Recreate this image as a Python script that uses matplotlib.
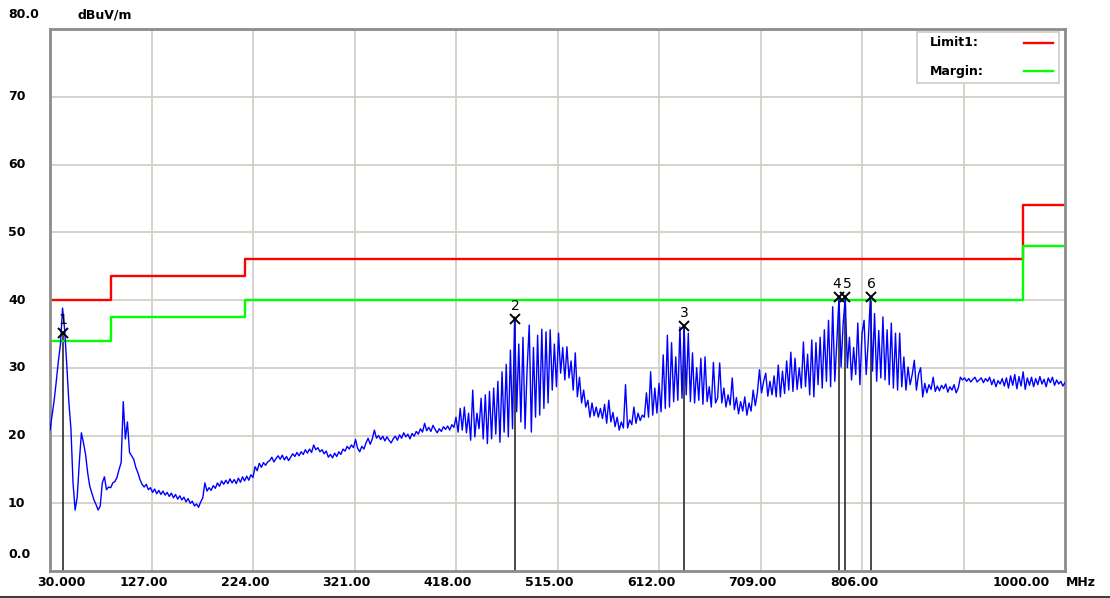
import numpy as np
import matplotlib.pyplot as plt
from matplotlib.lines import Line2D
from matplotlib.patches import Rectangle
from matplotlib.transforms import offset_copy

plt.rcParams['font.family'] = 'DejaVu Sans'

W, H = 1110, 598

# sweep: 30 .. 1000 MHz, one reading every 2 MHz
level = [
    20.8, 23.0, 25.2, 28.0, 31.0, 33.5, 38.8, 35.6, 30.5, 25.0,   # 30
    21.0, 13.0, 9.0, 10.9, 16.0, 20.4, 18.9, 17.2, 14.5, 12.5,    # 50
    11.5, 10.5, 9.8, 9.0, 9.6, 13.0, 13.9, 12.0, 12.4, 12.3,      # 70
    13.0, 13.2, 13.8, 15.0, 16.0, 25.0, 19.5, 22.0, 17.5, 17.0,   # 90
    16.5, 15.3, 14.5, 13.5, 12.8, 12.4, 12.8, 12.0, 12.3, 11.6,   # 110
    12.1, 11.4, 11.9, 11.3, 11.8, 11.2, 11.6, 11.0, 11.5, 10.8,   # 130
    11.3, 10.6, 11.1, 10.5, 10.9, 10.2, 10.7, 10.0, 10.3, 9.6,    # 150
    9.9, 9.4, 10.2, 10.8, 13.0, 11.8, 12.3, 11.9, 12.6, 12.2,     # 170
    13.0, 12.5, 13.3, 12.8, 13.4, 12.9, 13.6, 13.0, 13.5, 12.9,   # 190
    13.7, 13.1, 13.9, 13.3, 14.0, 13.4, 14.2, 13.8, 15.4, 14.8,   # 210
    15.9, 15.3, 16.0, 15.6, 16.1, 16.3, 16.8, 16.1, 16.6, 17.0,   # 230
    16.5, 17.1, 16.4, 16.9, 16.3, 16.8, 17.3, 16.9, 17.5, 17.0,   # 250
    17.6, 17.2, 17.9, 17.4, 18.0, 17.5, 18.6, 17.9, 18.2, 17.6,   # 270
    17.9, 17.3, 17.7, 16.8, 17.2, 16.7, 17.4, 16.9, 17.6, 17.2,   # 290
    18.0, 17.7, 18.4, 18.0, 18.6, 18.2, 19.4, 18.1, 17.6, 18.4,   # 310
    18.0, 18.9, 19.6, 18.7, 19.5, 20.8, 19.6, 20.0, 19.4, 19.9,   # 330
    19.2, 19.8, 19.3, 18.9, 19.5, 19.9, 19.3, 20.1, 19.6, 20.4,   # 350
    19.8, 20.2, 19.5, 20.3, 19.9, 20.6, 20.2, 21.0, 20.5, 21.8,   # 370
    20.7, 21.2, 20.6, 21.5, 20.9, 20.4, 21.0, 20.6, 21.3, 20.9,   # 390
    21.4, 20.8, 21.6, 21.2, 22.7, 20.5, 24.0, 20.8, 24.2, 20.4,   # 410
    23.3, 19.3, 26.7, 19.8, 23.3, 21.0, 25.5, 19.5, 26.0, 18.8,   # 430
    26.5, 19.5, 27.0, 20.2, 28.0, 19.0, 29.4, 20.5, 30.5, 19.8,   # 450
    32.6, 21.0, 37.5, 23.5, 33.5, 22.0, 34.5, 21.0, 30.0, 36.3,   # 470
    20.5, 33.0, 22.7, 34.8, 23.0, 35.7, 24.0, 35.3, 24.8, 35.6,   # 490
    26.7, 33.5, 27.2, 35.1, 29.2, 33.0, 28.2, 33.1, 28.5, 31.0,   # 510
    26.7, 32.2, 25.7, 28.6, 24.8, 26.7, 24.2, 25.2, 22.7, 24.8,   # 530
    22.9, 24.2, 22.7, 24.0, 22.5, 24.6, 21.8, 25.2, 22.0, 23.4,   # 550
    21.3, 22.7, 20.8, 22.0, 21.1, 27.5, 21.1, 22.3, 21.6, 24.2,   # 570
    21.8, 23.3, 22.2, 23.0, 22.7, 26.3, 22.7, 29.4, 23.0, 27.0,   # 590
    23.3, 27.7, 23.5, 31.9, 24.0, 34.8, 24.2, 33.7, 25.0, 31.6,   # 610
    25.2, 36.0, 25.5, 36.2, 26.0, 35.1, 25.0, 32.2, 24.8, 30.0,   # 630
    25.2, 31.4, 24.6, 31.6, 25.0, 27.2, 24.2, 30.8, 24.8, 25.5,   # 650
    30.7, 24.8, 27.0, 24.2, 26.0, 24.5, 28.5, 23.8, 25.6, 23.2,   # 670
    25.0, 23.6, 25.7, 23.0, 24.8, 23.6, 26.7, 24.4, 26.3, 29.7,   # 690
    26.3, 28.0, 29.2, 25.8, 28.0, 26.0, 28.8, 25.7, 30.4, 25.7,   # 710
    29.5, 26.2, 31.0, 26.7, 32.3, 26.5, 31.4, 26.8, 30.0, 27.0,   # 730
    33.8, 27.2, 32.0, 26.0, 34.1, 25.7, 33.7, 27.5, 34.5, 27.0,   # 750
    35.6, 28.0, 37.0, 27.2, 39.0, 28.0, 34.0, 40.4, 30.1, 36.5,   # 770
    40.4, 30.0, 34.5, 28.2, 33.0, 29.0, 36.6, 27.5, 35.0, 37.0,   # 790
    29.0, 34.0, 40.4, 29.5, 38.0, 28.0, 35.5, 28.5, 37.5, 28.2,   # 810
    35.6, 27.5, 36.6, 27.0, 35.1, 26.7, 35.1, 27.2, 31.6, 26.7,   # 830
    30.1, 27.5, 29.0, 31.1, 26.7, 29.0, 30.0, 25.7, 27.7, 26.3,   # 850
    27.5, 26.8, 28.6, 26.5, 27.3, 26.6, 27.4, 26.9, 27.6, 26.4,   # 870
    27.2, 26.7, 27.5, 26.3, 27.0, 28.6, 28.2, 28.5, 28.0, 28.4,   # 890
    27.9, 28.3, 28.6, 27.9, 28.2, 28.5, 27.8, 28.4, 28.0, 28.6,   # 910
    27.5, 28.3, 27.2, 28.1, 27.6, 28.4, 27.3, 28.5, 27.0, 28.8,   # 930
    27.4, 29.0, 26.9, 28.7, 27.3, 29.4, 26.8, 28.5, 27.4, 28.6,   # 950
    27.2, 28.4, 27.5, 28.7, 27.6, 28.3, 27.2, 28.5, 27.8, 28.6,   # 970
    27.4, 28.2, 27.6, 28.0, 27.3, 27.8,                           # 990
]
freq = np.arange(30, 1001, 2)[:len(level)]

# limit line and margin (steps)
limit_f = [30, 88, 216, 960, 1000]
limit_db = [40, 43.5, 46, 54, 54]
margin_db = [34, 37.5, 40, 48, 48]

# peak markers
mk_no = ['1', '2', '3', '4', '5', '6']
mk_f = [42.4, 474.4, 635.9, 784.0, 790.0, 814.6]
mk_db = [35.1, 37.2, 36.2, 40.4, 40.4, 40.4]
mk_nudge = [0, 0, 0, -2, 2, 0]   # px, keeps 4 and 5 apart

grid_f = [127, 224, 321, 418, 515, 612, 709, 806, 903]
xlab_f = [127, 224, 321, 418, 515, 612, 709, 806]
ylab_db = [10, 20, 30, 40, 50, 60, 70]

fig = plt.figure(figsize=(W / 100, H / 100), dpi=100)
fig.patch.set_facecolor('white')
ax = fig.add_axes([50 / W, 27 / H, 1015 / W, 542 / H])
ax.set_xlim(30, 1000)
ax.set_ylim(0, 80)
ax.set_xticks(grid_f)
ax.set_yticks(ylab_db)
ax.tick_params(length=0, labelbottom=False, labelleft=False)
ax.grid(color='#d4d0c8', lw=1.3)
ax.set_axisbelow(True)
for s in ax.spines.values():
    s.set_color('#8c8c8c')
    s.set_linewidth(2.0)

ax.step(limit_f, limit_db, where='post', color='#ff0000', lw=1.7, zorder=2)
ax.step(limit_f, margin_db, where='post', color='#00ff00', lw=1.7, zorder=2)

for f, v in zip(mk_f, mk_db):
    ax.plot([f, f], [0, v], color='#3c3c3c', lw=1.3, zorder=1.5, clip_on=False)

ax.plot(freq, level, color='#0000ff', lw=1.0, zorder=3)

ax.plot(mk_f, mk_db, ls='none', marker='x', ms=7.5, mew=1.4, color='black', zorder=4)
for n, f, v, dx in zip(mk_no, mk_f, mk_db, mk_nudge):
    num_tr = offset_copy(ax.transData, fig=fig, x=dx, y=13, units='dots')
    ax.text(f, v, n, transform=num_tr, ha='center', va='center', fontsize=10, zorder=5)

bold = dict(fontsize=9, fontweight='bold', color='black')

# y labels
ylab_tr = offset_copy(ax.get_yaxis_transform(), fig=fig, x=-42, y=0, units='dots')
for v in ylab_db:
    ax.text(0, v, str(v), transform=ylab_tr, ha='left', va='center', **bold)
fig.text(8 / W, 1 - 555 / H, '0.0', ha='left', va='center', **bold)
fig.text(8 / W, 1 - 15 / H, '80.0', ha='left', va='center', **bold)
fig.text(78 / W, 1 - 15 / H, 'dBuV/m', ha='left', va='center', **bold)

# x labels
xlab_tr = offset_copy(ax.get_xaxis_transform(), fig=fig, x=-8, y=-12, units='dots')
for f in xlab_f:
    ax.text(f, 0, '%.2f' % f, transform=xlab_tr, ha='center', va='center', **bold)
fig.text(61 / W, 1 - 583 / H, '30.000', ha='center', va='center', **bold)
fig.text(1021 / W, 1 - 583 / H, '1000.00', ha='center', va='center', **bold)
fig.text(1081 / W, 1 - 583 / H, 'MHz', ha='center', va='center', **bold)

# legend box
fig.add_artist(Rectangle((917 / W, 1 - 83 / H), 142 / W, 51 / H, transform=fig.transFigure,
                         facecolor='white', edgecolor='#d4d0c8', lw=1.3, zorder=5))
fig.text(930 / W, 1 - 43 / H, 'Limit1:', ha='left', va='center', zorder=6, **bold)
fig.text(930 / W, 1 - 72 / H, 'Margin:', ha='left', va='center', zorder=6, **bold)
fig.add_artist(Line2D([1024 / W, 1053 / W], [1 - 43 / H] * 2, color='#ff0000', lw=1.7, zorder=6))
fig.add_artist(Line2D([1024 / W, 1053 / W], [1 - 71 / H] * 2, color='#00ff00', lw=1.7, zorder=6))

# bottom frame line
fig.add_artist(Line2D([0, 1], [1.5 / H] * 2, color='#404040', lw=1.5))

fig.savefig('out.png', dpi=100)
